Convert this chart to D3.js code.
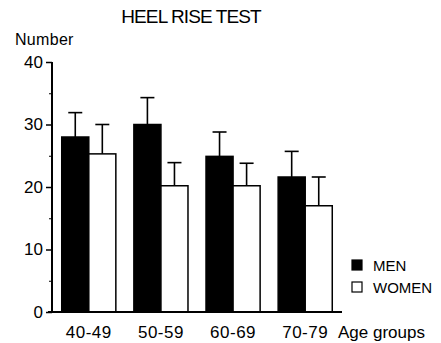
<!DOCTYPE html>
<html>
<head>
<meta charset="utf-8">
<script src="https://cdn.jsdelivr.net/npm/d3@7"></script>
<style>
  body { margin: 0; background: #fff; }
  text { font-family: "Liberation Sans", Arial, sans-serif; fill: #000; }
</style>
</head>
<body>
<div id="chart"></div>
<script>
var groups = ["40-49", "50-59", "60-69", "70-79"];
var series = ["MEN", "WOMEN"];
var menMean = [28.0, 30.0, 24.9, 21.6];
var menErr = [3.9, 4.3, 3.9, 4.1];
var womenMean = [25.3, 20.2, 20.2, 17.0];
var womenErr = [4.7, 3.7, 3.6, 4.6];
var yTicks = [0, 10, 20, 30, 40];
var yMinor = [5, 15, 25, 35];

var width = 441, height = 343;

var svg = d3.select("#chart").append("svg")
    .attr("width", width).attr("height", height);

var x = d3.scaleBand()
    .domain(groups)
    .range([52, 342])
    .paddingInner(0.25)
    .paddingOuter(0.135);

var xs = d3.scaleBand()
    .domain(series)
    .range([0, x.bandwidth()]);

var y = d3.scaleLinear()
    .domain([0, 40])
    .range([312, 62]);

var data = [];
groups.forEach(function(g, i) {
    data.push({group: g, s: "MEN", v: menMean[i], e: menErr[i]});
    data.push({group: g, s: "WOMEN", v: womenMean[i], e: womenErr[i]});
});

var fill = {MEN: "#000", WOMEN: "#fff"};

// error bars (upward only), drawn first so the bars sit on top
var eb = svg.append("g").attr("stroke", "#000").attr("stroke-width", 1.6);
data.forEach(function(d) {
    var cx = x(d.group) + xs(d.s) + xs.bandwidth() / 2;
    eb.append("line")
        .attr("x1", cx).attr("x2", cx)
        .attr("y1", y(d.v)).attr("y2", y(d.v + d.e));
    eb.append("line")
        .attr("x1", cx - 7).attr("x2", cx + 7)
        .attr("y1", y(d.v + d.e)).attr("y2", y(d.v + d.e));
});

svg.append("g").selectAll("rect")
    .data(data)
    .enter().append("rect")
    .attr("x", function(d) { return x(d.group) + xs(d.s); })
    .attr("y", function(d) { return y(d.v); })
    .attr("width", xs.bandwidth())
    .attr("height", function(d) { return y(0) - y(d.v); })
    .attr("fill", function(d) { return fill[d.s]; })
    .attr("stroke", "#000")
    .attr("stroke-width", 1.5);

// y axis
var yAxis = svg.append("g")
    .attr("transform", "translate(52,0)")
    .call(d3.axisLeft(y).tickValues(yTicks).tickSize(6).tickPadding(3));
yAxis.select(".domain").attr("stroke-width", 2).attr("d", "M0," + y(40) + "V" + y(0));
yAxis.selectAll(".tick line").attr("stroke-width", 1.5);
yAxis.selectAll("text").style("font-size", "17px");

svg.append("g")
    .attr("transform", "translate(52,0)")
    .call(d3.axisLeft(y).tickValues(yMinor).tickSize(3).tickFormat(""))
    .call(function(g) { g.select(".domain").remove(); });

// x baseline and labels
svg.append("line")
    .attr("x1", 48).attr("x2", 342)
    .attr("y1", y(0)).attr("y2", y(0))
    .attr("stroke", "#000").attr("stroke-width", 2);

svg.append("g").selectAll("text")
    .data(groups)
    .enter().append("text")
    .attr("x", function(d) { return x(d) + x.bandwidth() / 2; })
    .attr("y", 338)
    .attr("text-anchor", "middle")
    .style("font-size", "17px")
    .style("letter-spacing", "0.5px")
    .text(function(d) { return d; });

svg.append("text")
    .attr("x", 338).attr("y", 338)
    .style("font-size", "17px")
    .text("Age groups");

svg.append("text")
    .attr("x", 15).attr("y", 45)
    .style("font-size", "16px")
    .style("letter-spacing", "0.3px")
    .text("Number");

svg.append("text")
    .attr("x", 191).attr("y", 23)
    .attr("text-anchor", "middle")
    .style("font-size", "19px")
    .style("letter-spacing", "-0.9px")
    .text("HEEL RISE TEST");

// legend
var legend = svg.append("g").selectAll("g")
    .data(series)
    .enter().append("g")
    .attr("transform", function(d, i) { return "translate(352," + (260 + i * 22) + ")"; });
legend.append("rect")
    .attr("width", 10).attr("height", 10)
    .attr("fill", function(d) { return fill[d]; })
    .attr("stroke", "#000").attr("stroke-width", 1.2);
legend.append("text")
    .attr("x", 21).attr("y", 10.5)
    .style("font-size", "15px")
    .text(function(d) { return d; });
</script>
</body>
</html>
